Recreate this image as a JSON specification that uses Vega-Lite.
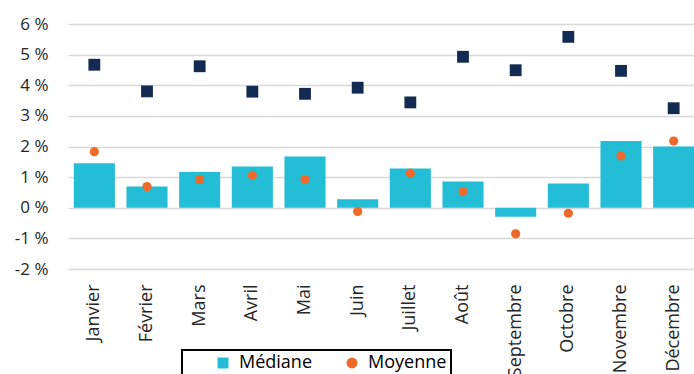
{
  "$schema": "https://vega.github.io/schema/vega-lite/v6.json",
  "width": 632,
  "height": 245,
  "autosize": {"type": "none"},
  "padding": {"left": 68, "top": 24, "right": 0, "bottom": 105},
  "background": "white",
  "config": {"view": {"stroke": null}, "font": "Open Sans",
    "axisY": {"title": null, "labelFontSize": 17, "labelColor": "#262626", "labelPadding": 20, "domain": false, "ticks": false, "grid": true, "gridColor": "#d9d9d9", "gridWidth": 1.3, "labelOverlap": false}
  },
  "data": {"values": [
    {"mois": "Janvier", "mediane": 1.45, "moyenne": 1.83, "autre": 4.67},
    {"mois": "Février", "mediane": 0.69, "moyenne": 0.69, "autre": 3.80},
    {"mois": "Mars", "mediane": 1.17, "moyenne": 0.92, "autre": 4.62},
    {"mois": "Avril", "mediane": 1.35, "moyenne": 1.06, "autre": 3.79},
    {"mois": "Mai", "mediane": 1.67, "moyenne": 0.92, "autre": 3.72},
    {"mois": "Juin", "mediane": 0.28, "moyenne": -0.12, "autre": 3.92},
    {"mois": "Juillet", "mediane": 1.28, "moyenne": 1.13, "autre": 3.44},
    {"mois": "Août", "mediane": 0.86, "moyenne": 0.53, "autre": 4.93},
    {"mois": "Septembre", "mediane": -0.29, "moyenne": -0.85, "autre": 4.49},
    {"mois": "Octobre", "mediane": 0.79, "moyenne": -0.18, "autre": 5.58},
    {"mois": "Novembre", "mediane": 2.18, "moyenne": 1.69, "autre": 4.47},
    {"mois": "Décembre", "mediane": 2.00, "moyenne": 2.18, "autre": 3.25}
  ]},
  "encoding": {
    "x": {
      "field": "mois", "type": "nominal", "sort": null,
      "scale": {"paddingInner": 0.22, "paddingOuter": 0.11},
      "axis": {"title": null, "labelAngle": -90, "labelAlign": "right", "labelBaseline": "middle", "labelPadding": 15, "labelFontSize": 18, "labelColor": "#262626", "ticks": false, "domain": false, "grid": false}
    }
  },
  "layer": [
    {
      "mark": {"type": "bar"},
      "encoding": {
        "y": {"field": "mediane", "type": "quantitative", "scale": {"domain": [-2, 6], "nice": false},
          "axis": {"values": [-2, -1, 0, 1, 2, 3, 4, 5, 6], "labelExpr": "datum.value + ' %'"}},
        "color": {
          "datum": "Médiane",
          "scale": {"domain": ["Médiane", "Moyenne"], "range": ["#23BED5", "#EE6A2A"]},
          "legend": {
            "title": null, "orient": "none", "direction": "horizontal", "legendX": 114, "legendY": 326,
            "strokeColor": "#000000", "fillColor": "#ffffff", "padding": 4,
            "symbolOffset": 28, "columnPadding": 2, "labelOffset": 7,
            "labelFontSize": 18, "labelColor": "#000000", "symbolSize": 120, "symbolStrokeWidth": 0, "symbolType": "square",
            "labelExpr": "datum.label == 'Moyenne' ? datum.label + '\u00a0\u00a0\u00a0\u00a0' : datum.label",
            "encode": {
              "legend": {"update": {"strokeWidth": {"value": 2}}},
              "symbols": {"update": {"shape": {"signal": "datum.value === 'Moyenne' ? 'circle' : 'square'"}}}
            }
          }
        }
      }
    },
    {
      "mark": {"type": "point", "shape": "square", "filled": true, "size": 140, "color": "#132B52", "opacity": 1},
      "encoding": {"y": {"field": "autre", "type": "quantitative", "axis": {"values": [-2, -1, 0, 1, 2, 3, 4, 5, 6], "labelExpr": "datum.value + ' %'"}}}
    },
    {
      "mark": {"type": "point", "shape": "circle", "filled": true, "size": 85, "opacity": 1},
      "encoding": {"y": {"field": "moyenne", "type": "quantitative", "axis": {"values": [-2, -1, 0, 1, 2, 3, 4, 5, 6], "labelExpr": "datum.value + ' %'"}}, "color": {"datum": "Moyenne"}}
    }
  ]
}
